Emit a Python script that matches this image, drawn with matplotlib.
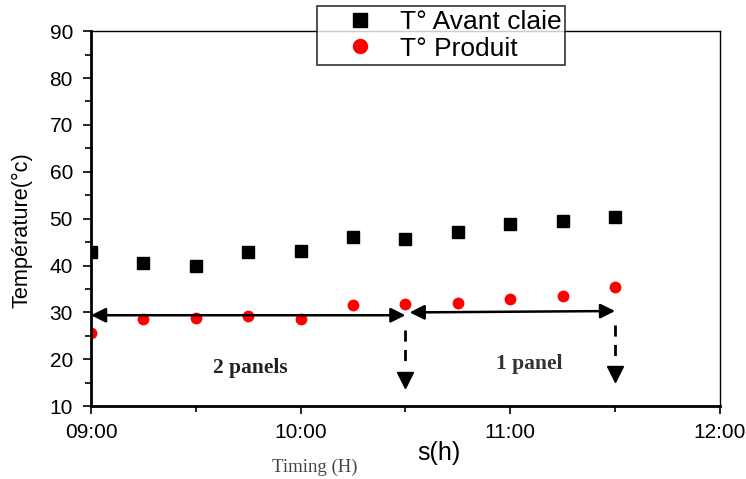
import matplotlib.pyplot as plt
from matplotlib.ticker import MultipleLocator, FuncFormatter

# relevés de température
heures = ['09:00', '09:15', '09:30', '09:45', '10:00', '10:15', '10:30',
          '10:45', '11:00', '11:15', '11:30']
t_avant_claie = [42.8, 40.5, 39.8, 42.9, 43.2, 46.0, 45.7, 47.2, 48.9, 49.6, 50.4]
t_produit = [25.7, 28.6, 28.9, 29.2, 28.7, 31.5, 31.8, 32.0, 32.9, 33.4, 35.5]


def en_heures(h):
    hh, mm = h.split(':')
    return int(hh) + int(mm) / 60


x = [en_heures(h) for h in heures]

plt.rcParams['font.family'] = ['Liberation Sans', 'DejaVu Sans']

fig = plt.figure(figsize=(7.46, 4.79), dpi=100)
ax = fig.add_axes([0.122, 0.152, 0.843, 0.783])

ax.plot(x, t_avant_claie, 's', color='black', markersize=8, label='T° Avant claie')
ax.plot(x, t_produit, 'o', color='red', markersize=8.5, markeredgewidth=0, label='T° Produit')

ax.set_xlim(9, 12)
ax.set_ylim(10, 90)
ax.xaxis.set_major_locator(MultipleLocator(1))
ax.xaxis.set_minor_locator(MultipleLocator(0.5))
ax.yaxis.set_major_locator(MultipleLocator(10))
ax.yaxis.set_minor_locator(MultipleLocator(5))
ax.xaxis.set_major_formatter(FuncFormatter(lambda v, p: f'{int(v):02d}:00'))
ax.tick_params(which='both', direction='out', width=1.2, labelsize=15)
ax.tick_params(which='major', length=6)
ax.tick_params(which='minor', length=4)
ax.tick_params(axis='x', pad=6)
ax.tick_params(axis='y', pad=7)
for s in ['left', 'bottom']:
    ax.spines[s].set_linewidth(2)
for s in ['top', 'right']:
    ax.spines[s].set_linewidth(1)

ax.set_ylabel('Température(°c)', fontsize=15.7)
ax.yaxis.set_label_coords(-0.093, 0.47)

# flèches des périodes
fleche = dict(arrowstyle='<|-|>', color='black', lw=1.8, mutation_scale=22, shrinkA=0, shrinkB=0)
ax.annotate('', xy=(9.0, 29.4), xytext=(10.5, 29.4), arrowprops=fleche)
ax.annotate('', xy=(10.52, 30.0), xytext=(11.5, 30.3), arrowprops=fleche)

for xd, y0, y1, y_tete in [(10.5, 26.2, 18.7, 15.5), (11.5, 27.3, 19.8, 16.9)]:
    ax.plot([xd, xd], [y0, y1], '--', color='black', lw=2, dashes=(4, 3))
    ax.plot(xd, y_tete, 'v', color='black', markersize=11)

ax.text(9.76, 18.2, '2 panels', family='Liberation Serif', weight='bold',
        fontsize=15.5, color='#222222', ha='center', va='center')
ax.text(11.09, 19.0, '1 panel', family='Liberation Serif', weight='bold',
        fontsize=15.5, color='#333333', ha='center', va='center')

fig.text(0.422, 0.015, 'Timing (H)', family='Liberation Serif', fontsize=13.5,
         color='#444444', ha='center')
fig.text(0.588, 0.055, 's(h)', fontsize=18, ha='center', va='center')

leg = ax.legend(loc='upper left', bbox_to_anchor=(0.359, 1.067), frameon=True,
                fancybox=False, edgecolor='black', fontsize=19, handletextpad=0.0,
                borderpad=0.15, labelspacing=0.1, handlelength=3.0, borderaxespad=0,
                markerscale=1.3)
leg.get_frame().set_linewidth(1.2)

fig.savefig('out.png', dpi=100)
